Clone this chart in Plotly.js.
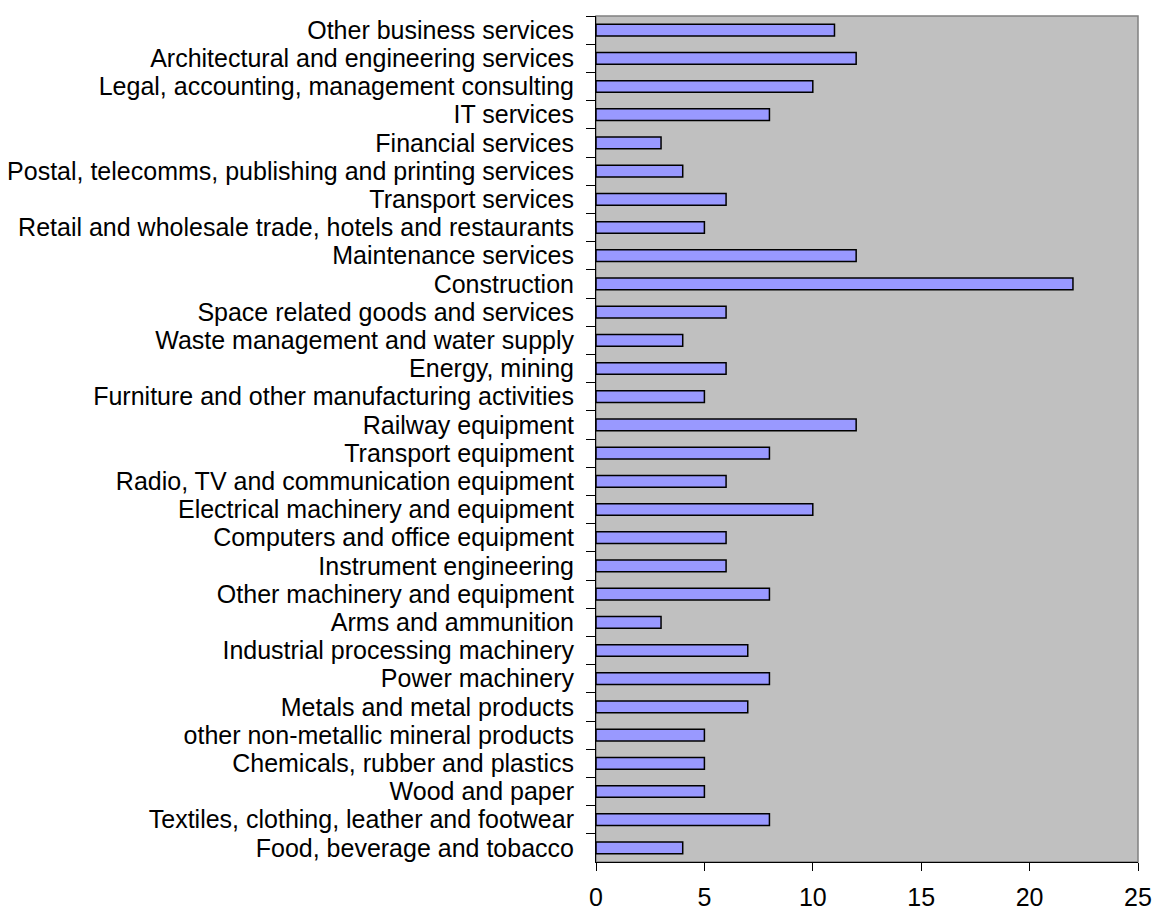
<!DOCTYPE html>
<html>
<head>
<meta charset="utf-8">
<script src="https://cdn.plot.ly/plotly-3.0.1.min.js"></script>
<style>html,body{margin:0;padding:0;background:#fff;}#chart{width:1153px;height:910px;}</style>
</head>
<body>
<div id="chart"></div>
<script>
const categories = [
  "Other business services",
  "Architectural and engineering services",
  "Legal, accounting, management consulting",
  "IT services",
  "Financial services",
  "Postal, telecomms, publishing and printing services",
  "Transport services",
  "Retail and wholesale trade, hotels and restaurants",
  "Maintenance services",
  "Construction",
  "Space related goods and services",
  "Waste management and water supply",
  "Energy, mining",
  "Furniture and other manufacturing activities",
  "Railway equipment",
  "Transport equipment",
  "Radio, TV and communication equipment",
  "Electrical machinery and equipment",
  "Computers and office equipment",
  "Instrument engineering",
  "Other machinery and equipment",
  "Arms and ammunition",
  "Industrial processing machinery",
  "Power machinery",
  "Metals and metal products",
  "other non-metallic mineral products",
  "Chemicals, rubber and plastics",
  "Wood and paper",
  "Textiles, clothing, leather and footwear",
  "Food, beverage and tobacco"
];
const values = [11, 12, 10, 8, 3, 4, 6, 5, 12, 22, 6, 4, 6, 5, 12, 8, 6, 10, 6, 6, 8, 3, 7, 8, 7, 5, 5, 5, 8, 4];
const xTicks = [0, 5, 10, 15, 20, 25];

const font = {family: "Liberation Sans, Arial, sans-serif", size: 25, color: "#000"};

Plotly.newPlot("chart", [{
  type: "bar",
  orientation: "h",
  y: categories,
  x: values,
  marker: {color: "#9999FF", line: {color: "#000000", width: 1.5}},
  hoverinfo: "x+y"
}], {
  width: 1153, height: 910,
  margin: {l: 596, r: 15, t: 16, b: 48, pad: 0},
  paper_bgcolor: "#ffffff",
  plot_bgcolor: "#C0C0C0",
  font: font,
  bargap: 0.585,
  showlegend: false,
  xaxis: {
    range: [0, 25],
    tickvals: xTicks,
    ticktext: xTicks.map(String),
    showgrid: false, zeroline: false,
    showline: true, linecolor: "#000", linewidth: 1,
    ticks: "outside", ticklen: 8, tickcolor: "#000", tickwidth: 1,
    ticklabelstandoff: 5,
    tickfont: font,
    fixedrange: true
  },
  yaxis: {
    type: "category",
    autorange: "reversed",
    tickmode: "linear", dtick: 1, tick0: 0,
    showgrid: false, zeroline: false,
    showline: true, linecolor: "#000", linewidth: 1,
    ticks: "outside", ticklen: 9, tickcolor: "#000", tickwidth: 1,
    tickson: "boundaries",
    ticklabelstandoff: 16,
    tickfont: font,
    fixedrange: true
  },
  shapes: [{
    type: "rect", xref: "paper", yref: "paper", x0: 0, x1: 1, y0: 0, y1: 1,
    line: {color: "#808080", width: 1.5}, layer: "below"
  }]
}, {displayModeBar: false, staticPlot: true});
</script>
</body>
</html>
